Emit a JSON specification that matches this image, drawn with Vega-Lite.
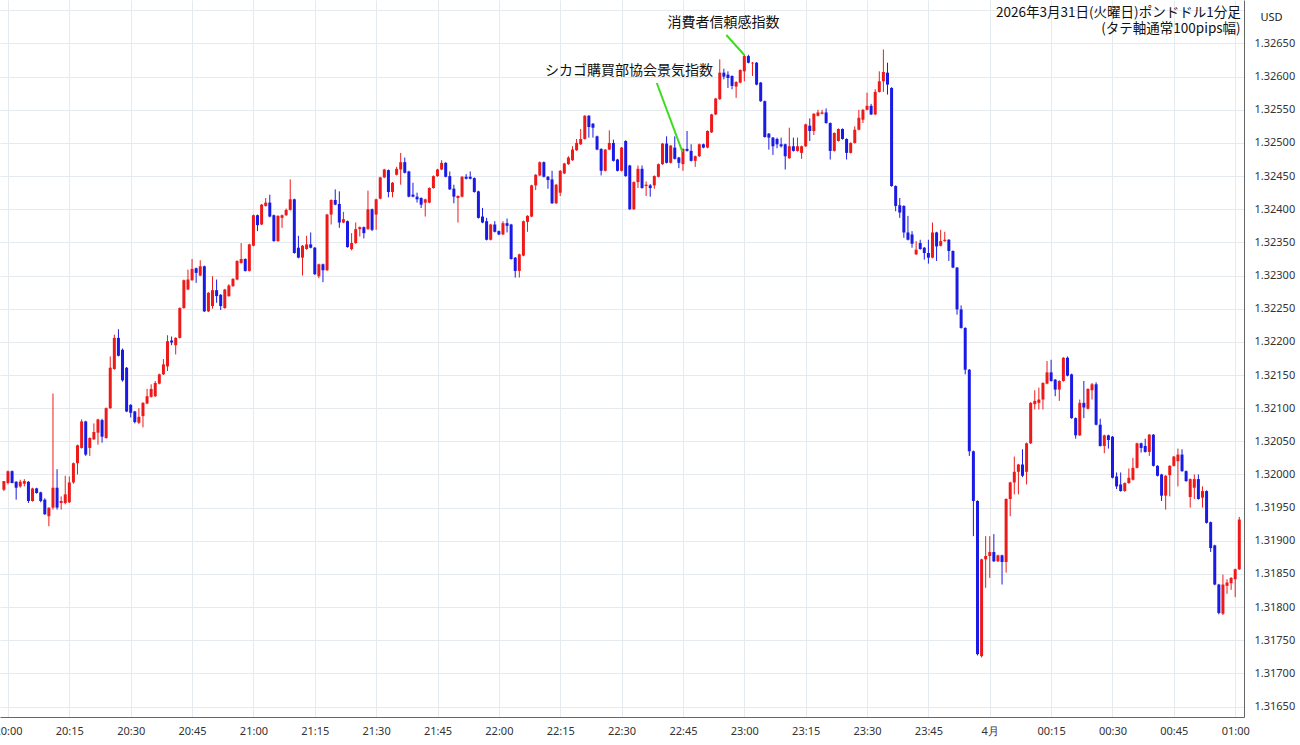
{
"width":1244,"height":717,
"autosize":{"type":"none"},
"padding":{"left":0,"top":0,"right":56,"bottom":28},
"background":"white",
"config":{"view":{"stroke":null},"bar":{"continuousBandSize":3},"axis":{"labelFont":"Noto Sans","titleFont":"Noto Sans"},"axisY":{"labelOverlap":false}},
"datasets":{
"candles":[
{"t":"2026-03-31T19:59","o":1.31977,"h":1.31990,"l":1.31975,"c":1.31990},
{"t":"2026-03-31T20:00","o":1.31987,"h":1.32006,"l":1.31985,"c":1.32005},
{"t":"2026-03-31T20:01","o":1.32005,"h":1.32006,"l":1.31987,"c":1.31987},
{"t":"2026-03-31T20:02","o":1.31989,"h":1.31990,"l":1.31962,"c":1.31980},
{"t":"2026-03-31T20:03","o":1.31982,"h":1.31992,"l":1.31980,"c":1.31989},
{"t":"2026-03-31T20:04","o":1.31986,"h":1.31993,"l":1.31982,"c":1.31990},
{"t":"2026-03-31T20:05","o":1.31989,"h":1.31990,"l":1.31957,"c":1.31960},
{"t":"2026-03-31T20:06","o":1.31960,"h":1.31980,"l":1.31959,"c":1.31979},
{"t":"2026-03-31T20:07","o":1.31979,"h":1.31980,"l":1.31971,"c":1.31972},
{"t":"2026-03-31T20:08","o":1.31973,"h":1.31974,"l":1.31958,"c":1.31960},
{"t":"2026-03-31T20:09","o":1.31962,"h":1.31964,"l":1.31939,"c":1.31940},
{"t":"2026-03-31T20:10","o":1.31937,"h":1.31950,"l":1.31922,"c":1.31950},
{"t":"2026-03-31T20:11","o":1.31950,"h":1.32122,"l":1.31947,"c":1.31980},
{"t":"2026-03-31T20:12","o":1.31980,"h":1.32008,"l":1.31947,"c":1.31950},
{"t":"2026-03-31T20:13","o":1.31957,"h":1.31967,"l":1.31947,"c":1.31960},
{"t":"2026-03-31T20:14","o":1.31957,"h":1.31998,"l":1.31955,"c":1.31970},
{"t":"2026-03-31T20:15","o":1.31958,"h":1.31997,"l":1.31957,"c":1.31988},
{"t":"2026-03-31T20:16","o":1.31988,"h":1.32018,"l":1.31986,"c":1.32017},
{"t":"2026-03-31T20:17","o":1.32017,"h":1.32045,"l":1.32000,"c":1.32044},
{"t":"2026-03-31T20:18","o":1.32040,"h":1.32083,"l":1.32039,"c":1.32080},
{"t":"2026-03-31T20:19","o":1.32080,"h":1.32081,"l":1.32028,"c":1.32030},
{"t":"2026-03-31T20:20","o":1.32040,"h":1.32056,"l":1.32028,"c":1.32055},
{"t":"2026-03-31T20:21","o":1.32053,"h":1.32077,"l":1.32052,"c":1.32064},
{"t":"2026-03-31T20:22","o":1.32063,"h":1.32084,"l":1.32045,"c":1.32083},
{"t":"2026-03-31T20:23","o":1.32082,"h":1.32084,"l":1.32048,"c":1.32057},
{"t":"2026-03-31T20:24","o":1.32055,"h":1.32101,"l":1.32054,"c":1.32100},
{"t":"2026-03-31T20:25","o":1.32100,"h":1.32178,"l":1.32099,"c":1.32161},
{"t":"2026-03-31T20:26","o":1.32159,"h":1.32211,"l":1.32158,"c":1.32206},
{"t":"2026-03-31T20:27","o":1.32206,"h":1.32219,"l":1.32178,"c":1.32179},
{"t":"2026-03-31T20:28","o":1.32188,"h":1.32190,"l":1.32140,"c":1.32142},
{"t":"2026-03-31T20:29","o":1.32161,"h":1.32162,"l":1.32094,"c":1.32095},
{"t":"2026-03-31T20:30","o":1.32105,"h":1.32106,"l":1.32086,"c":1.32093},
{"t":"2026-03-31T20:31","o":1.32095,"h":1.32096,"l":1.32077,"c":1.32079},
{"t":"2026-03-31T20:32","o":1.32078,"h":1.32100,"l":1.32076,"c":1.32087},
{"t":"2026-03-31T20:33","o":1.32088,"h":1.32109,"l":1.32071,"c":1.32108},
{"t":"2026-03-31T20:34","o":1.32107,"h":1.32129,"l":1.32106,"c":1.32118},
{"t":"2026-03-31T20:35","o":1.32117,"h":1.32136,"l":1.32116,"c":1.32129},
{"t":"2026-03-31T20:36","o":1.32118,"h":1.32141,"l":1.32117,"c":1.32138},
{"t":"2026-03-31T20:37","o":1.32137,"h":1.32152,"l":1.32136,"c":1.32151},
{"t":"2026-03-31T20:38","o":1.32151,"h":1.32174,"l":1.32150,"c":1.32166},
{"t":"2026-03-31T20:39","o":1.32163,"h":1.32210,"l":1.32156,"c":1.32201},
{"t":"2026-03-31T20:40","o":1.32202,"h":1.32208,"l":1.32195,"c":1.32199},
{"t":"2026-03-31T20:41","o":1.32195,"h":1.32207,"l":1.32181,"c":1.32206},
{"t":"2026-03-31T20:42","o":1.32206,"h":1.32252,"l":1.32205,"c":1.32251},
{"t":"2026-03-31T20:43","o":1.32251,"h":1.32294,"l":1.32250,"c":1.32293},
{"t":"2026-03-31T20:44","o":1.32279,"h":1.32309,"l":1.32278,"c":1.32294},
{"t":"2026-03-31T20:45","o":1.32293,"h":1.32325,"l":1.32292,"c":1.32310},
{"t":"2026-03-31T20:46","o":1.32311,"h":1.32312,"l":1.32289,"c":1.32304},
{"t":"2026-03-31T20:47","o":1.32300,"h":1.32323,"l":1.32299,"c":1.32314},
{"t":"2026-03-31T20:48","o":1.32314,"h":1.32315,"l":1.32245,"c":1.32246},
{"t":"2026-03-31T20:49","o":1.32246,"h":1.32275,"l":1.32245,"c":1.32274},
{"t":"2026-03-31T20:50","o":1.32254,"h":1.32299,"l":1.32250,"c":1.32278},
{"t":"2026-03-31T20:51","o":1.32278,"h":1.32294,"l":1.32259,"c":1.32269},
{"t":"2026-03-31T20:52","o":1.32271,"h":1.32272,"l":1.32248,"c":1.32254},
{"t":"2026-03-31T20:53","o":1.32251,"h":1.32280,"l":1.32250,"c":1.32279},
{"t":"2026-03-31T20:54","o":1.32269,"h":1.32287,"l":1.32268,"c":1.32285},
{"t":"2026-03-31T20:55","o":1.32284,"h":1.32296,"l":1.32283,"c":1.32295},
{"t":"2026-03-31T20:56","o":1.32294,"h":1.32323,"l":1.32293,"c":1.32322},
{"t":"2026-03-31T20:57","o":1.32319,"h":1.32349,"l":1.32318,"c":1.32325},
{"t":"2026-03-31T20:58","o":1.32325,"h":1.32326,"l":1.32306,"c":1.32307},
{"t":"2026-03-31T20:59","o":1.32307,"h":1.32348,"l":1.32306,"c":1.32347},
{"t":"2026-03-31T21:00","o":1.32345,"h":1.32392,"l":1.32344,"c":1.32391},
{"t":"2026-03-31T21:01","o":1.32391,"h":1.32392,"l":1.32367,"c":1.32376},
{"t":"2026-03-31T21:02","o":1.32377,"h":1.32408,"l":1.32376,"c":1.32407},
{"t":"2026-03-31T21:03","o":1.32405,"h":1.32417,"l":1.32404,"c":1.32410},
{"t":"2026-03-31T21:04","o":1.32410,"h":1.32422,"l":1.32388,"c":1.32389},
{"t":"2026-03-31T21:05","o":1.32391,"h":1.32392,"l":1.32351,"c":1.32352},
{"t":"2026-03-31T21:06","o":1.32352,"h":1.32391,"l":1.32351,"c":1.32390},
{"t":"2026-03-31T21:07","o":1.32387,"h":1.32392,"l":1.32372,"c":1.32391},
{"t":"2026-03-31T21:08","o":1.32391,"h":1.32401,"l":1.32390,"c":1.32399},
{"t":"2026-03-31T21:09","o":1.32399,"h":1.32445,"l":1.32398,"c":1.32415},
{"t":"2026-03-31T21:10","o":1.32415,"h":1.32416,"l":1.32333,"c":1.32334},
{"t":"2026-03-31T21:11","o":1.32342,"h":1.32360,"l":1.32326,"c":1.32327},
{"t":"2026-03-31T21:12","o":1.32327,"h":1.32346,"l":1.32300,"c":1.32345},
{"t":"2026-03-31T21:13","o":1.32340,"h":1.32360,"l":1.32339,"c":1.32347},
{"t":"2026-03-31T21:14","o":1.32347,"h":1.32365,"l":1.32341,"c":1.32342},
{"t":"2026-03-31T21:15","o":1.32342,"h":1.32343,"l":1.32301,"c":1.32302},
{"t":"2026-03-31T21:16","o":1.32299,"h":1.32318,"l":1.32296,"c":1.32317},
{"t":"2026-03-31T21:17","o":1.32317,"h":1.32318,"l":1.32290,"c":1.32308},
{"t":"2026-03-31T21:18","o":1.32308,"h":1.32393,"l":1.32307,"c":1.32392},
{"t":"2026-03-31T21:19","o":1.32392,"h":1.32415,"l":1.32377,"c":1.32414},
{"t":"2026-03-31T21:20","o":1.32414,"h":1.32430,"l":1.32406,"c":1.32407},
{"t":"2026-03-31T21:21","o":1.32408,"h":1.32427,"l":1.32372,"c":1.32380},
{"t":"2026-03-31T21:22","o":1.32380,"h":1.32396,"l":1.32379,"c":1.32385},
{"t":"2026-03-31T21:23","o":1.32382,"h":1.32383,"l":1.32342,"c":1.32343},
{"t":"2026-03-31T21:24","o":1.32340,"h":1.32364,"l":1.32338,"c":1.32349},
{"t":"2026-03-31T21:25","o":1.32349,"h":1.32380,"l":1.32348,"c":1.32370},
{"t":"2026-03-31T21:26","o":1.32370,"h":1.32374,"l":1.32359,"c":1.32373},
{"t":"2026-03-31T21:27","o":1.32373,"h":1.32374,"l":1.32356,"c":1.32364},
{"t":"2026-03-31T21:28","o":1.32370,"h":1.32428,"l":1.32369,"c":1.32400},
{"t":"2026-03-31T21:29","o":1.32400,"h":1.32401,"l":1.32367,"c":1.32369},
{"t":"2026-03-31T21:30","o":1.32392,"h":1.32416,"l":1.32369,"c":1.32415},
{"t":"2026-03-31T21:31","o":1.32416,"h":1.32449,"l":1.32415,"c":1.32448},
{"t":"2026-03-31T21:32","o":1.32448,"h":1.32461,"l":1.32447,"c":1.32460},
{"t":"2026-03-31T21:33","o":1.32459,"h":1.32460,"l":1.32418,"c":1.32426},
{"t":"2026-03-31T21:34","o":1.32426,"h":1.32441,"l":1.32418,"c":1.32440},
{"t":"2026-03-31T21:35","o":1.32452,"h":1.32464,"l":1.32451,"c":1.32461},
{"t":"2026-03-31T21:36","o":1.32460,"h":1.32485,"l":1.32437,"c":1.32471},
{"t":"2026-03-31T21:37","o":1.32471,"h":1.32478,"l":1.32454,"c":1.32455},
{"t":"2026-03-31T21:38","o":1.32457,"h":1.32458,"l":1.32418,"c":1.32419},
{"t":"2026-03-31T21:39","o":1.32422,"h":1.32440,"l":1.32418,"c":1.32419},
{"t":"2026-03-31T21:40","o":1.32419,"h":1.32425,"l":1.32410,"c":1.32415},
{"t":"2026-03-31T21:41","o":1.32417,"h":1.32418,"l":1.32402,"c":1.32407},
{"t":"2026-03-31T21:42","o":1.32410,"h":1.32416,"l":1.32389,"c":1.32415},
{"t":"2026-03-31T21:43","o":1.32410,"h":1.32433,"l":1.32409,"c":1.32432},
{"t":"2026-03-31T21:44","o":1.32432,"h":1.32451,"l":1.32431,"c":1.32450},
{"t":"2026-03-31T21:45","o":1.32450,"h":1.32461,"l":1.32449,"c":1.32460},
{"t":"2026-03-31T21:46","o":1.32460,"h":1.32474,"l":1.32459,"c":1.32470},
{"t":"2026-03-31T21:47","o":1.32470,"h":1.32471,"l":1.32448,"c":1.32449},
{"t":"2026-03-31T21:48","o":1.32450,"h":1.32457,"l":1.32429,"c":1.32430},
{"t":"2026-03-31T21:49","o":1.32431,"h":1.32437,"l":1.32409,"c":1.32419},
{"t":"2026-03-31T21:50","o":1.32417,"h":1.32421,"l":1.32380,"c":1.32420},
{"t":"2026-03-31T21:51","o":1.32419,"h":1.32450,"l":1.32418,"c":1.32449},
{"t":"2026-03-31T21:52","o":1.32449,"h":1.32453,"l":1.32445,"c":1.32446},
{"t":"2026-03-31T21:53","o":1.32449,"h":1.32457,"l":1.32445,"c":1.32446},
{"t":"2026-03-31T21:54","o":1.32447,"h":1.32448,"l":1.32425,"c":1.32426},
{"t":"2026-03-31T21:55","o":1.32427,"h":1.32428,"l":1.32386,"c":1.32387},
{"t":"2026-03-31T21:56","o":1.32389,"h":1.32402,"l":1.32379,"c":1.32380},
{"t":"2026-03-31T21:57","o":1.32382,"h":1.32387,"l":1.32353,"c":1.32354},
{"t":"2026-03-31T21:58","o":1.32354,"h":1.32378,"l":1.32353,"c":1.32377},
{"t":"2026-03-31T21:59","o":1.32377,"h":1.32382,"l":1.32365,"c":1.32366},
{"t":"2026-03-31T22:00","o":1.32367,"h":1.32368,"l":1.32361,"c":1.32362},
{"t":"2026-03-31T22:01","o":1.32362,"h":1.32382,"l":1.32361,"c":1.32379},
{"t":"2026-03-31T22:02","o":1.32379,"h":1.32386,"l":1.32365,"c":1.32375},
{"t":"2026-03-31T22:03","o":1.32377,"h":1.32378,"l":1.32324,"c":1.32325},
{"t":"2026-03-31T22:04","o":1.32327,"h":1.32328,"l":1.32297,"c":1.32307},
{"t":"2026-03-31T22:05","o":1.32307,"h":1.32333,"l":1.32297,"c":1.32332},
{"t":"2026-03-31T22:06","o":1.32330,"h":1.32383,"l":1.32329,"c":1.32382},
{"t":"2026-03-31T22:07","o":1.32381,"h":1.32391,"l":1.32366,"c":1.32390},
{"t":"2026-03-31T22:08","o":1.32389,"h":1.32437,"l":1.32388,"c":1.32436},
{"t":"2026-03-31T22:09","o":1.32436,"h":1.32453,"l":1.32429,"c":1.32452},
{"t":"2026-03-31T22:10","o":1.32451,"h":1.32472,"l":1.32450,"c":1.32471},
{"t":"2026-03-31T22:11","o":1.32471,"h":1.32472,"l":1.32448,"c":1.32449},
{"t":"2026-03-31T22:12","o":1.32449,"h":1.32450,"l":1.32431,"c":1.32444},
{"t":"2026-03-31T22:13","o":1.32445,"h":1.32458,"l":1.32408,"c":1.32409},
{"t":"2026-03-31T22:14","o":1.32409,"h":1.32438,"l":1.32408,"c":1.32437},
{"t":"2026-03-31T22:15","o":1.32425,"h":1.32459,"l":1.32420,"c":1.32458},
{"t":"2026-03-31T22:16","o":1.32454,"h":1.32470,"l":1.32453,"c":1.32469},
{"t":"2026-03-31T22:17","o":1.32468,"h":1.32480,"l":1.32467,"c":1.32478},
{"t":"2026-03-31T22:18","o":1.32474,"h":1.32495,"l":1.32473,"c":1.32490},
{"t":"2026-03-31T22:19","o":1.32489,"h":1.32506,"l":1.32488,"c":1.32500},
{"t":"2026-03-31T22:20","o":1.32498,"h":1.32521,"l":1.32497,"c":1.32506},
{"t":"2026-03-31T22:21","o":1.32506,"h":1.32542,"l":1.32505,"c":1.32541},
{"t":"2026-03-31T22:22","o":1.32541,"h":1.32542,"l":1.32508,"c":1.32524},
{"t":"2026-03-31T22:23","o":1.32529,"h":1.32530,"l":1.32508,"c":1.32523},
{"t":"2026-03-31T22:24","o":1.32510,"h":1.32511,"l":1.32489,"c":1.32490},
{"t":"2026-03-31T22:25","o":1.32491,"h":1.32492,"l":1.32451,"c":1.32458},
{"t":"2026-03-31T22:26","o":1.32458,"h":1.32491,"l":1.32457,"c":1.32490},
{"t":"2026-03-31T22:27","o":1.32490,"h":1.32519,"l":1.32489,"c":1.32500},
{"t":"2026-03-31T22:28","o":1.32500,"h":1.32505,"l":1.32472,"c":1.32473},
{"t":"2026-03-31T22:29","o":1.32475,"h":1.32476,"l":1.32457,"c":1.32458},
{"t":"2026-03-31T22:30","o":1.32458,"h":1.32494,"l":1.32457,"c":1.32493},
{"t":"2026-03-31T22:31","o":1.32503,"h":1.32504,"l":1.32449,"c":1.32450},
{"t":"2026-03-31T22:32","o":1.32466,"h":1.32467,"l":1.32399,"c":1.32400},
{"t":"2026-03-31T22:33","o":1.32400,"h":1.32442,"l":1.32399,"c":1.32441},
{"t":"2026-03-31T22:34","o":1.32441,"h":1.32466,"l":1.32432,"c":1.32461},
{"t":"2026-03-31T22:35","o":1.32461,"h":1.32466,"l":1.32431,"c":1.32432},
{"t":"2026-03-31T22:36","o":1.32435,"h":1.32442,"l":1.32420,"c":1.32437},
{"t":"2026-03-31T22:37","o":1.32436,"h":1.32438,"l":1.32419,"c":1.32432},
{"t":"2026-03-31T22:38","o":1.32436,"h":1.32451,"l":1.32431,"c":1.32450},
{"t":"2026-03-31T22:39","o":1.32449,"h":1.32469,"l":1.32448,"c":1.32468},
{"t":"2026-03-31T22:40","o":1.32468,"h":1.32500,"l":1.32467,"c":1.32499},
{"t":"2026-03-31T22:41","o":1.32499,"h":1.32510,"l":1.32469,"c":1.32470},
{"t":"2026-03-31T22:42","o":1.32470,"h":1.32497,"l":1.32469,"c":1.32496},
{"t":"2026-03-31T22:43","o":1.32493,"h":1.32510,"l":1.32475,"c":1.32476},
{"t":"2026-03-31T22:44","o":1.32478,"h":1.32479,"l":1.32462,"c":1.32470},
{"t":"2026-03-31T22:45","o":1.32468,"h":1.32492,"l":1.32458,"c":1.32491},
{"t":"2026-03-31T22:46","o":1.32491,"h":1.32518,"l":1.32487,"c":1.32488},
{"t":"2026-03-31T22:47","o":1.32488,"h":1.32498,"l":1.32472,"c":1.32473},
{"t":"2026-03-31T22:48","o":1.32473,"h":1.32481,"l":1.32464,"c":1.32480},
{"t":"2026-03-31T22:49","o":1.32480,"h":1.32499,"l":1.32479,"c":1.32498},
{"t":"2026-03-31T22:50","o":1.32498,"h":1.32499,"l":1.32492,"c":1.32493},
{"t":"2026-03-31T22:51","o":1.32493,"h":1.32519,"l":1.32492,"c":1.32518},
{"t":"2026-03-31T22:52","o":1.32516,"h":1.32544,"l":1.32515,"c":1.32543},
{"t":"2026-03-31T22:53","o":1.32543,"h":1.32568,"l":1.32542,"c":1.32567},
{"t":"2026-03-31T22:54","o":1.32566,"h":1.32626,"l":1.32565,"c":1.32606},
{"t":"2026-03-31T22:55","o":1.32606,"h":1.32612,"l":1.32596,"c":1.32600},
{"t":"2026-03-31T22:56","o":1.32603,"h":1.32608,"l":1.32583,"c":1.32598},
{"t":"2026-03-31T22:57","o":1.32601,"h":1.32602,"l":1.32581,"c":1.32586},
{"t":"2026-03-31T22:58","o":1.32585,"h":1.32593,"l":1.32568,"c":1.32592},
{"t":"2026-03-31T22:59","o":1.32591,"h":1.32611,"l":1.32590,"c":1.32610},
{"t":"2026-03-31T23:00","o":1.32608,"h":1.32633,"l":1.32593,"c":1.32631},
{"t":"2026-03-31T23:01","o":1.32631,"h":1.32633,"l":1.32620,"c":1.32621},
{"t":"2026-03-31T23:02","o":1.32620,"h":1.32622,"l":1.32601,"c":1.32621},
{"t":"2026-03-31T23:03","o":1.32621,"h":1.32622,"l":1.32587,"c":1.32588},
{"t":"2026-03-31T23:04","o":1.32591,"h":1.32592,"l":1.32562,"c":1.32563},
{"t":"2026-03-31T23:05","o":1.32563,"h":1.32564,"l":1.32508,"c":1.32509},
{"t":"2026-03-31T23:06","o":1.32514,"h":1.32515,"l":1.32490,"c":1.32508},
{"t":"2026-03-31T23:07","o":1.32508,"h":1.32509,"l":1.32482,"c":1.32495},
{"t":"2026-03-31T23:08","o":1.32506,"h":1.32508,"l":1.32492,"c":1.32498},
{"t":"2026-03-31T23:09","o":1.32498,"h":1.32508,"l":1.32493,"c":1.32495},
{"t":"2026-03-31T23:10","o":1.32498,"h":1.32499,"l":1.32460,"c":1.32480},
{"t":"2026-03-31T23:11","o":1.32477,"h":1.32523,"l":1.32476,"c":1.32495},
{"t":"2026-03-31T23:12","o":1.32495,"h":1.32508,"l":1.32487,"c":1.32488},
{"t":"2026-03-31T23:13","o":1.32488,"h":1.32508,"l":1.32487,"c":1.32495},
{"t":"2026-03-31T23:14","o":1.32485,"h":1.32496,"l":1.32476,"c":1.32495},
{"t":"2026-03-31T23:15","o":1.32495,"h":1.32529,"l":1.32494,"c":1.32528},
{"t":"2026-03-31T23:16","o":1.32526,"h":1.32537,"l":1.32503,"c":1.32518},
{"t":"2026-03-31T23:17","o":1.32518,"h":1.32545,"l":1.32512,"c":1.32544},
{"t":"2026-03-31T23:18","o":1.32541,"h":1.32550,"l":1.32540,"c":1.32546},
{"t":"2026-03-31T23:19","o":1.32544,"h":1.32550,"l":1.32543,"c":1.32546},
{"t":"2026-03-31T23:20","o":1.32546,"h":1.32552,"l":1.32529,"c":1.32530},
{"t":"2026-03-31T23:21","o":1.32530,"h":1.32531,"l":1.32475,"c":1.32488},
{"t":"2026-03-31T23:22","o":1.32488,"h":1.32516,"l":1.32487,"c":1.32515},
{"t":"2026-03-31T23:23","o":1.32503,"h":1.32522,"l":1.32502,"c":1.32521},
{"t":"2026-03-31T23:24","o":1.32521,"h":1.32522,"l":1.32505,"c":1.32506},
{"t":"2026-03-31T23:25","o":1.32506,"h":1.32507,"l":1.32475,"c":1.32485},
{"t":"2026-03-31T23:26","o":1.32485,"h":1.32501,"l":1.32484,"c":1.32500},
{"t":"2026-03-31T23:27","o":1.32500,"h":1.32525,"l":1.32499,"c":1.32520},
{"t":"2026-03-31T23:28","o":1.32520,"h":1.32550,"l":1.32519,"c":1.32538},
{"t":"2026-03-31T23:29","o":1.32535,"h":1.32551,"l":1.32530,"c":1.32550},
{"t":"2026-03-31T23:30","o":1.32550,"h":1.32576,"l":1.32549,"c":1.32556},
{"t":"2026-03-31T23:31","o":1.32556,"h":1.32559,"l":1.32542,"c":1.32543},
{"t":"2026-03-31T23:32","o":1.32543,"h":1.32581,"l":1.32542,"c":1.32577},
{"t":"2026-03-31T23:33","o":1.32577,"h":1.32608,"l":1.32576,"c":1.32593},
{"t":"2026-03-31T23:34","o":1.32593,"h":1.32641,"l":1.32577,"c":1.32607},
{"t":"2026-03-31T23:35","o":1.32606,"h":1.32621,"l":1.32573,"c":1.32588},
{"t":"2026-03-31T23:36","o":1.32583,"h":1.32584,"l":1.32434,"c":1.32435},
{"t":"2026-03-31T23:37","o":1.32435,"h":1.32436,"l":1.32397,"c":1.32405},
{"t":"2026-03-31T23:38","o":1.32406,"h":1.32417,"l":1.32387,"c":1.32395},
{"t":"2026-03-31T23:39","o":1.32405,"h":1.32406,"l":1.32357,"c":1.32365},
{"t":"2026-03-31T23:40","o":1.32365,"h":1.32390,"l":1.32353,"c":1.32354},
{"t":"2026-03-31T23:41","o":1.32362,"h":1.32367,"l":1.32342,"c":1.32348},
{"t":"2026-03-31T23:42","o":1.32332,"h":1.32352,"l":1.32331,"c":1.32339},
{"t":"2026-03-31T23:43","o":1.32349,"h":1.32354,"l":1.32339,"c":1.32340},
{"t":"2026-03-31T23:44","o":1.32342,"h":1.32343,"l":1.32324,"c":1.32334},
{"t":"2026-03-31T23:45","o":1.32334,"h":1.32354,"l":1.32318,"c":1.32327},
{"t":"2026-03-31T23:46","o":1.32327,"h":1.32380,"l":1.32326,"c":1.32365},
{"t":"2026-03-31T23:47","o":1.32365,"h":1.32366,"l":1.32322,"c":1.32344},
{"t":"2026-03-31T23:48","o":1.32345,"h":1.32369,"l":1.32344,"c":1.32352},
{"t":"2026-03-31T23:49","o":1.32352,"h":1.32366,"l":1.32351,"c":1.32354},
{"t":"2026-03-31T23:50","o":1.32354,"h":1.32355,"l":1.32322,"c":1.32337},
{"t":"2026-03-31T23:51","o":1.32337,"h":1.32338,"l":1.32311,"c":1.32312},
{"t":"2026-03-31T23:52","o":1.32312,"h":1.32313,"l":1.32241,"c":1.32249},
{"t":"2026-03-31T23:53","o":1.32249,"h":1.32255,"l":1.32220,"c":1.32221},
{"t":"2026-03-31T23:54","o":1.32221,"h":1.32222,"l":1.32151,"c":1.32158},
{"t":"2026-03-31T23:55","o":1.32158,"h":1.32159,"l":1.32028,"c":1.32035},
{"t":"2026-03-31T23:56","o":1.32035,"h":1.32036,"l":1.31907,"c":1.31960},
{"t":"2026-03-31T23:57","o":1.31960,"h":1.31961,"l":1.31727,"c":1.31729},
{"t":"2026-03-31T23:58","o":1.31726,"h":1.31873,"l":1.31724,"c":1.31872},
{"t":"2026-03-31T23:59","o":1.31872,"h":1.31907,"l":1.31829,"c":1.31877},
{"t":"2026-04-01T00:00","o":1.31877,"h":1.31907,"l":1.31844,"c":1.31883},
{"t":"2026-04-01T00:01","o":1.31883,"h":1.31910,"l":1.31868,"c":1.31869},
{"t":"2026-04-01T00:02","o":1.31869,"h":1.31879,"l":1.31868,"c":1.31878},
{"t":"2026-04-01T00:03","o":1.31878,"h":1.31879,"l":1.31834,"c":1.31868},
{"t":"2026-04-01T00:04","o":1.31868,"h":1.31964,"l":1.31852,"c":1.31963},
{"t":"2026-04-01T00:05","o":1.31963,"h":1.31989,"l":1.31937,"c":1.31988},
{"t":"2026-04-01T00:06","o":1.31988,"h":1.32027,"l":1.31970,"c":1.32004},
{"t":"2026-04-01T00:07","o":1.32004,"h":1.32016,"l":1.31970,"c":1.32015},
{"t":"2026-04-01T00:08","o":1.32015,"h":1.32038,"l":1.31996,"c":1.31998},
{"t":"2026-04-01T00:09","o":1.32004,"h":1.32048,"l":1.31985,"c":1.32047},
{"t":"2026-04-01T00:10","o":1.32047,"h":1.32109,"l":1.32046,"c":1.32108},
{"t":"2026-04-01T00:11","o":1.32106,"h":1.32127,"l":1.32098,"c":1.32111},
{"t":"2026-04-01T00:12","o":1.32108,"h":1.32131,"l":1.32098,"c":1.32113},
{"t":"2026-04-01T00:13","o":1.32113,"h":1.32139,"l":1.32098,"c":1.32138},
{"t":"2026-04-01T00:14","o":1.32137,"h":1.32171,"l":1.32136,"c":1.32154},
{"t":"2026-04-01T00:15","o":1.32154,"h":1.32173,"l":1.32140,"c":1.32141},
{"t":"2026-04-01T00:16","o":1.32143,"h":1.32144,"l":1.32118,"c":1.32128},
{"t":"2026-04-01T00:17","o":1.32128,"h":1.32142,"l":1.32111,"c":1.32141},
{"t":"2026-04-01T00:18","o":1.32141,"h":1.32177,"l":1.32140,"c":1.32176},
{"t":"2026-04-01T00:19","o":1.32176,"h":1.32178,"l":1.32148,"c":1.32149},
{"t":"2026-04-01T00:20","o":1.32151,"h":1.32152,"l":1.32084,"c":1.32085},
{"t":"2026-04-01T00:21","o":1.32085,"h":1.32086,"l":1.32054,"c":1.32059},
{"t":"2026-04-01T00:22","o":1.32059,"h":1.32113,"l":1.32058,"c":1.32108},
{"t":"2026-04-01T00:23","o":1.32108,"h":1.32141,"l":1.32085,"c":1.32101},
{"t":"2026-04-01T00:24","o":1.32099,"h":1.32130,"l":1.32098,"c":1.32129},
{"t":"2026-04-01T00:25","o":1.32127,"h":1.32138,"l":1.32113,"c":1.32136},
{"t":"2026-04-01T00:26","o":1.32136,"h":1.32139,"l":1.32074,"c":1.32075},
{"t":"2026-04-01T00:27","o":1.32075,"h":1.32084,"l":1.32042,"c":1.32043},
{"t":"2026-04-01T00:28","o":1.32043,"h":1.32060,"l":1.32032,"c":1.32059},
{"t":"2026-04-01T00:29","o":1.32059,"h":1.32060,"l":1.32039,"c":1.32052},
{"t":"2026-04-01T00:30","o":1.32057,"h":1.32058,"l":1.31994,"c":1.31995},
{"t":"2026-04-01T00:31","o":1.31997,"h":1.32003,"l":1.31978,"c":1.31982},
{"t":"2026-04-01T00:32","o":1.31985,"h":1.32003,"l":1.31974,"c":1.31975},
{"t":"2026-04-01T00:33","o":1.31975,"h":1.31988,"l":1.31974,"c":1.31987},
{"t":"2026-04-01T00:34","o":1.31987,"h":1.32009,"l":1.31986,"c":1.31995},
{"t":"2026-04-01T00:35","o":1.31992,"h":1.32025,"l":1.31991,"c":1.32010},
{"t":"2026-04-01T00:36","o":1.32010,"h":1.32048,"l":1.32009,"c":1.32047},
{"t":"2026-04-01T00:37","o":1.32047,"h":1.32048,"l":1.32033,"c":1.32040},
{"t":"2026-04-01T00:38","o":1.32043,"h":1.32054,"l":1.32033,"c":1.32034},
{"t":"2026-04-01T00:39","o":1.32034,"h":1.32061,"l":1.32028,"c":1.32060},
{"t":"2026-04-01T00:40","o":1.32060,"h":1.32061,"l":1.32012,"c":1.32013},
{"t":"2026-04-01T00:41","o":1.32013,"h":1.32014,"l":1.31997,"c":1.31998},
{"t":"2026-04-01T00:42","o":1.32000,"h":1.32001,"l":1.31960,"c":1.31968},
{"t":"2026-04-01T00:43","o":1.31968,"h":1.31999,"l":1.31947,"c":1.31998},
{"t":"2026-04-01T00:44","o":1.31999,"h":1.32014,"l":1.31967,"c":1.32013},
{"t":"2026-04-01T00:45","o":1.32013,"h":1.32028,"l":1.32012,"c":1.32027},
{"t":"2026-04-01T00:46","o":1.32020,"h":1.32039,"l":1.31982,"c":1.32030},
{"t":"2026-04-01T00:47","o":1.32030,"h":1.32038,"l":1.32004,"c":1.32005},
{"t":"2026-04-01T00:48","o":1.32005,"h":1.32006,"l":1.31989,"c":1.31990},
{"t":"2026-04-01T00:49","o":1.31966,"h":1.31994,"l":1.31950,"c":1.31993},
{"t":"2026-04-01T00:50","o":1.31980,"h":1.32000,"l":1.31963,"c":1.31993},
{"t":"2026-04-01T00:51","o":1.31993,"h":1.32000,"l":1.31962,"c":1.31963},
{"t":"2026-04-01T00:52","o":1.31965,"h":1.31982,"l":1.31950,"c":1.31975},
{"t":"2026-04-01T00:53","o":1.31975,"h":1.31976,"l":1.31926,"c":1.31927},
{"t":"2026-04-01T00:54","o":1.31928,"h":1.31929,"l":1.31883,"c":1.31889},
{"t":"2026-04-01T00:55","o":1.31893,"h":1.31894,"l":1.31833,"c":1.31834},
{"t":"2026-04-01T00:56","o":1.31834,"h":1.31835,"l":1.31789,"c":1.31791},
{"t":"2026-04-01T00:57","o":1.31790,"h":1.31849,"l":1.31788,"c":1.31834},
{"t":"2026-04-01T00:58","o":1.31832,"h":1.31842,"l":1.31820,"c":1.31837},
{"t":"2026-04-01T00:59","o":1.31836,"h":1.31845,"l":1.31826,"c":1.31844},
{"t":"2026-04-01T01:00","o":1.31842,"h":1.31858,"l":1.31815,"c":1.31857},
{"t":"2026-04-01T01:01","o":1.31857,"h":1.31936,"l":1.31856,"c":1.31932}
],
"leaders":[
{"t1":"2026-03-31T22:55:36","p1":1.326628,"t2":"2026-03-31T23:00:00","p2":1.326327},
{"t1":"2026-03-31T22:38:36","p1":1.325904,"t2":"2026-03-31T22:44:54","p2":1.324863}
],
"notes":[
{"label":"消費者信頼感指数","t":"2026-03-31T22:54:54","p":1.326809},
{"label":"シカゴ購買部協会景気指数","t":"2026-03-31T22:31:47","p":1.326085}
],
"heading":[
{"label":"2026年3月31日(火曜日)ポンドドル1分足","t":"2026-04-01T01:01:20","p":1.326955},
{"label":"(タテ軸通常100pips幅)","t":"2026-04-01T01:01:20","p":1.326725}
]
},
"layer":[
{"data":{"name":"candles"},
 "mark":{"type":"rule","strokeWidth":1},
 "encoding":{
  "x":{"field":"t","type":"temporal","title":null,
   "scale":{"domain":[{"year":2026,"month":3,"date":31,"hours":19,"minutes":58,"seconds":47},{"year":2026,"month":4,"date":1,"hours":1,"minutes":1,"seconds":25}]},
   "axis":{"tickCount":20,"format":"%H:%M",
    "labelExpr":"timeFormat(datum.value, '%H:%M') == '00:00' ? '4月' : timeFormat(datum.value, '%H:%M')",
    "grid":true,"gridColor":"#e5eaef","domainColor":"#666",
    "ticks":false,"labelPadding":8,"labelFontSize":11,"labelColor":"#333"}},
  "y":{"field":"l","type":"quantitative","title":"USD",
   "scale":{"domain":[1.316342,1.327156],"zero":false,"nice":false},
   "axis":{"orient":"right","tickCount":22,
    "labelExpr":"datum.value > 1.32680 ? '' : format(datum.value, '.5f')",
    "labelOverlap":false,"grid":true,"gridColor":"#e5eaef","domainColor":"#666",
    "ticks":false,"labelPadding":10,"labelFontSize":11,"labelColor":"#333",
    "titleAngle":0,"titleX":27,"titleY":17,"titleAlign":"center","titleBaseline":"middle","titleFontSize":11,"titleFontWeight":"normal","titleColor":"#222"}},
  "y2":{"field":"h"},
  "color":{"condition":{"test":"datum.c >= datum.o","value":"#ee1a1a"},"value":"#1a1ae6"}
 }},
{"data":{"name":"candles"},
 "mark":{"type":"bar"},
 "encoding":{
  "x":{"field":"t","type":"temporal"},
  "y":{"field":"o","type":"quantitative"},
  "y2":{"field":"c"},
  "color":{"condition":{"test":"datum.c >= datum.o","value":"#ee1a1a"},"value":"#1a1ae6"}
 }},
{"data":{"name":"leaders"},
 "mark":{"type":"rule","color":"#3ddc1f","strokeWidth":2},
 "encoding":{
  "x":{"field":"t1","type":"temporal"},
  "x2":{"field":"t2"},
  "y":{"field":"p1","type":"quantitative"},
  "y2":{"field":"p2"}
 }},
{"data":{"name":"notes"},
 "mark":{"type":"text","align":"center","baseline":"middle","font":"Noto Sans CJK JP","fontSize":14,"color":"#111"},
 "encoding":{
  "x":{"field":"t","type":"temporal"},
  "y":{"field":"p","type":"quantitative"},
  "text":{"field":"label"}
 }},
{"data":{"name":"heading"},
 "mark":{"type":"text","align":"right","baseline":"middle","font":"Noto Sans CJK JP","fontSize":13.5,"color":"#111"},
 "encoding":{
  "x":{"field":"t","type":"temporal"},
  "y":{"field":"p","type":"quantitative"},
  "text":{"field":"label"}
 }}
]
}
